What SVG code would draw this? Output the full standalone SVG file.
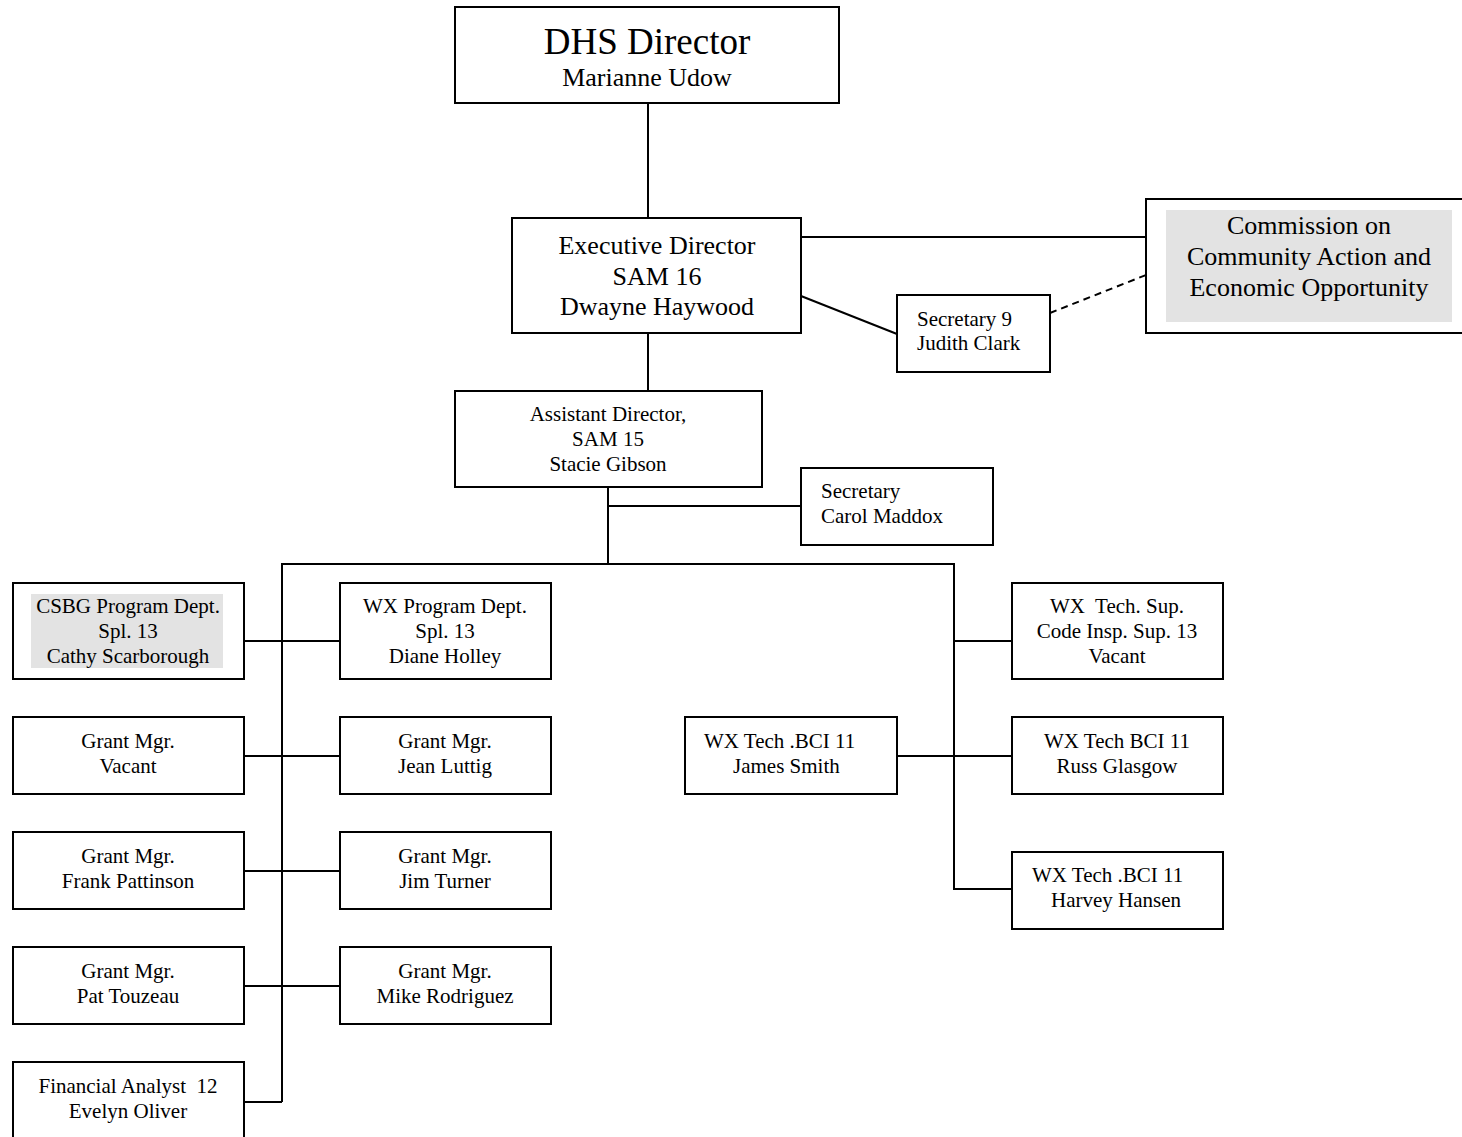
<svg xmlns="http://www.w3.org/2000/svg" width="1462" height="1137" viewBox="0 0 1462 1137">
<style>
.box{fill:#fff;stroke:#000;stroke-width:2}
.shade{fill:#e3e3e3;stroke:none}
.ln{fill:none;stroke:#000;stroke-width:2}
.dash{fill:none;stroke:#000;stroke-width:2;stroke-dasharray:7 5}
text{font-family:"Liberation Serif","Times New Roman",serif;fill:#000}
.c{text-anchor:middle}
.s{font-size:21px}
.m{font-size:26px}
.l{font-size:37px}
</style>
<rect width="1462" height="1137" fill="#fff"/>
<g id="connectors">
<line class="ln" x1="648" y1="103" x2="648" y2="218"/>
<line class="ln" x1="801" y1="237" x2="1146" y2="237"/>
<line class="ln" x1="801" y1="296" x2="897" y2="334"/>
<line class="dash" x1="1050" y1="313" x2="1146" y2="275"/>
<line class="ln" x1="648" y1="333" x2="648" y2="391"/>
<line class="ln" x1="608" y1="487" x2="608" y2="564"/>
<line class="ln" x1="608" y1="506" x2="801" y2="506"/>
<polyline class="ln" points="282,1102 282,564 954,564 954,889 1012,889"/>
<line class="ln" x1="244" y1="1102" x2="282" y2="1102"/>
<line class="ln" x1="244" y1="641" x2="340" y2="641"/>
<line class="ln" x1="244" y1="756" x2="340" y2="756"/>
<line class="ln" x1="244" y1="871" x2="340" y2="871"/>
<line class="ln" x1="244" y1="986" x2="340" y2="986"/>
<line class="ln" x1="954" y1="641" x2="1012" y2="641"/>
<line class="ln" x1="897" y1="756" x2="1012" y2="756"/>
</g>
<g id="dhs-director">
<rect class="box" x="455" y="7" width="384" height="96"/>
<text class="l c" x="647" y="54">DHS Director</text>
<text class="m c" x="647" y="86">Marianne Udow</text>
</g>
<g id="executive-director">
<rect class="box" x="512" y="218" width="289" height="115"/>
<text class="m c" x="657" y="254">Executive Director</text>
<text class="m c" x="657" y="285">SAM 16</text>
<text class="m c" x="657" y="315">Dwayne Haywood</text>
</g>
<g id="commission">
<rect class="box" x="1146" y="199" width="330" height="134"/>
<rect class="shade" x="1166" y="210" width="286" height="112"/>
<text class="m c" x="1309" y="234">Commission on</text>
<text class="m c" x="1309" y="265">Community Action and</text>
<text class="m c" x="1309" y="296">Economic Opportunity</text>
</g>
<g id="secretary-9">
<rect class="box" x="897" y="295" width="153" height="77"/>
<text class="s" x="917" y="326">Secretary 9</text>
<text class="s" x="917" y="350">Judith Clark</text>
</g>
<g id="assistant-director">
<rect class="box" x="455" y="391" width="307" height="96"/>
<text class="s c" x="608" y="421">Assistant Director,</text>
<text class="s c" x="608" y="446">SAM 15</text>
<text class="s c" x="608" y="471">Stacie Gibson</text>
</g>
<g id="secretary-carol">
<rect class="box" x="801" y="468" width="192" height="77"/>
<text class="s" x="821" y="498">Secretary</text>
<text class="s" x="821" y="523">Carol Maddox</text>
</g>
<g id="csbg-program">
<rect class="box" x="13" y="583" width="231" height="96"/>
<rect class="shade" x="31" y="594" width="192" height="74"/>
<text class="s c" x="128" y="613">CSBG Program Dept.</text>
<text class="s c" x="128" y="638">Spl. 13</text>
<text class="s c" x="128" y="663">Cathy Scarborough</text>
</g>
<g id="wx-program">
<rect class="box" x="340" y="583" width="211" height="96"/>
<text class="s c" x="445" y="613">WX Program Dept.</text>
<text class="s c" x="445" y="638">Spl. 13</text>
<text class="s c" x="445" y="663">Diane Holley</text>
</g>
<g id="grant-vacant">
<rect class="box" x="13" y="717" width="231" height="77"/>
<text class="s c" x="128" y="748">Grant Mgr.</text>
<text class="s c" x="128" y="773">Vacant</text>
</g>
<g id="grant-luttig">
<rect class="box" x="340" y="717" width="211" height="77"/>
<text class="s c" x="445" y="748">Grant Mgr.</text>
<text class="s c" x="445" y="773">Jean Luttig</text>
</g>
<g id="grant-pattinson">
<rect class="box" x="13" y="832" width="231" height="77"/>
<text class="s c" x="128" y="863">Grant Mgr.</text>
<text class="s c" x="128" y="888">Frank Pattinson</text>
</g>
<g id="grant-turner">
<rect class="box" x="340" y="832" width="211" height="77"/>
<text class="s c" x="445" y="863">Grant Mgr.</text>
<text class="s c" x="445" y="888">Jim Turner</text>
</g>
<g id="grant-touzeau">
<rect class="box" x="13" y="947" width="231" height="77"/>
<text class="s c" x="128" y="978">Grant Mgr.</text>
<text class="s c" x="128" y="1003">Pat Touzeau</text>
</g>
<g id="grant-rodriguez">
<rect class="box" x="340" y="947" width="211" height="77"/>
<text class="s c" x="445" y="978">Grant Mgr.</text>
<text class="s c" x="445" y="1003">Mike Rodriguez</text>
</g>
<g id="financial-analyst">
<rect class="box" x="13" y="1062" width="231" height="80"/>
<text class="s c" x="128" y="1093" xml:space="preserve">Financial Analyst  12</text>
<text class="s c" x="128" y="1118">Evelyn Oliver</text>
</g>
<g id="wx-tech-sup">
<rect class="box" x="1012" y="583" width="211" height="96"/>
<text class="s c" x="1117" y="613" xml:space="preserve">WX  Tech. Sup.</text>
<text class="s c" x="1117" y="638">Code Insp. Sup. 13</text>
<text class="s c" x="1117" y="663">Vacant</text>
</g>
<g id="wx-tech-smith">
<rect class="box" x="685" y="717" width="212" height="77"/>
<text class="s" x="704" y="748">WX Tech .BCI 11</text>
<text class="s" x="733" y="773">James Smith</text>
</g>
<g id="wx-tech-glasgow">
<rect class="box" x="1012" y="717" width="211" height="77"/>
<text class="s c" x="1117" y="748">WX Tech BCI 11</text>
<text class="s c" x="1117" y="773">Russ Glasgow</text>
</g>
<g id="wx-tech-hansen">
<rect class="box" x="1012" y="852" width="211" height="77"/>
<text class="s" x="1032" y="882">WX Tech .BCI 11</text>
<text class="s" x="1051" y="907">Harvey Hansen</text>
</g>
</svg>
